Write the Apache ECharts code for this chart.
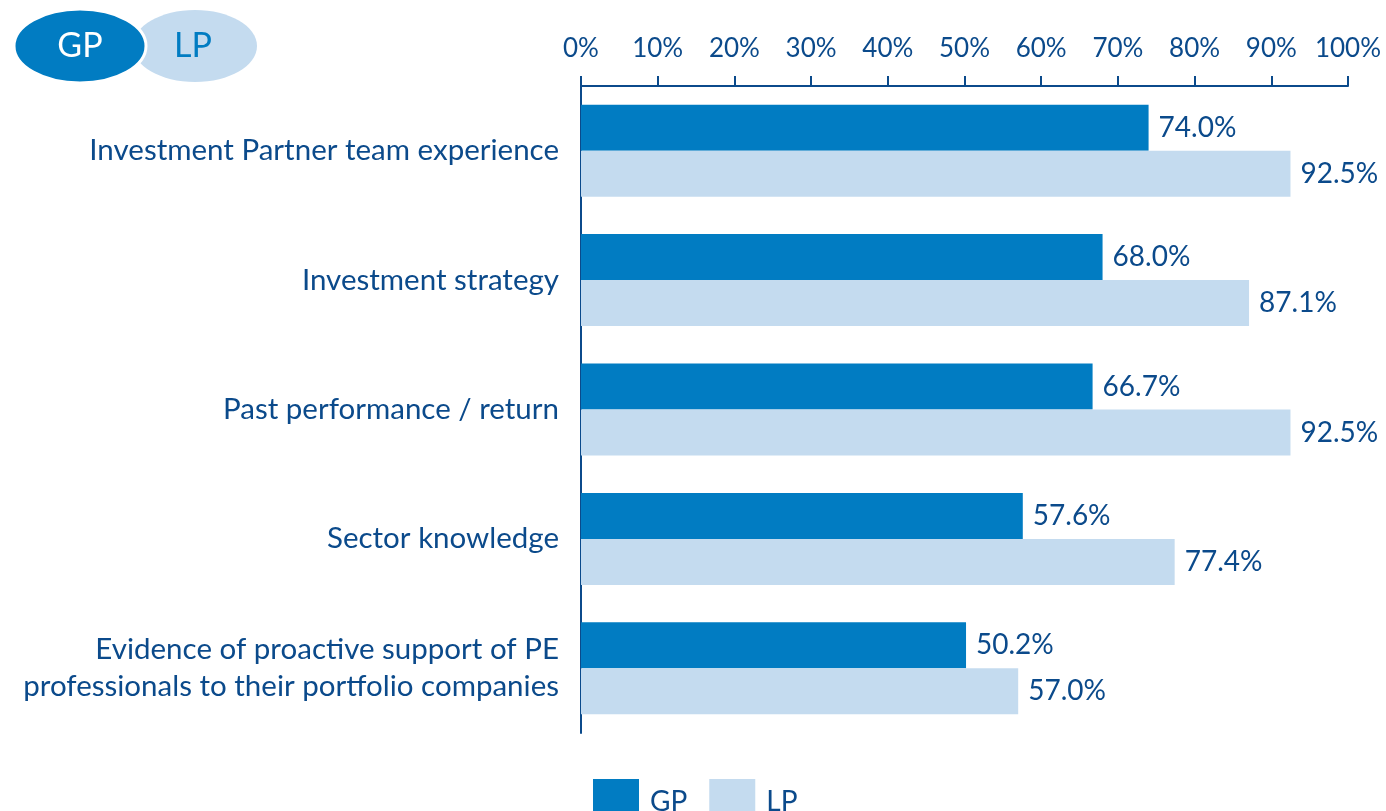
<!DOCTYPE html>
<html>
<head>
<meta charset="utf-8">
<script src="https://cdn.jsdelivr.net/npm/echarts@6/dist/echarts.min.js"></script>
<style>
  html, body { margin: 0; padding: 0; background: #fff; }
  #chart { width: 1386px; height: 811px; }
</style>
</head>
<body>
<div id="chart"></div>
<script>
// Chart data
const categories = [
  'Investment Partner team experience',
  'Investment strategy',
  'Past performance / return',
  'Sector knowledge',
  'Evidence of proactive support of PE\nprofessionals to their portfolio companies'
]
const gpValues = [74.0, 68.0, 66.7, 57.6, 50.2]
const lpValues = [92.5, 87.1, 92.5, 77.4, 57.0]
const seriesNames = ['GP', 'LP']

// Colours
const gpColor = '#017cc2'
const lpColor = '#c4dbef'
const textColor = '#0b4a8b'
const fontFamily = 'Lato, "Open Sans", sans-serif'

const chart = echarts.init(document.getElementById('chart'))

const valueLabel = {
  show: true,
  position: 'right',
  distance: 10,
  color: textColor,
  fontSize: 28,
  fontFamily,
  formatter: (p) => p.value.toFixed(1) + '%'
}

const option = {
  backgroundColor: '#fff',
  animation: false,
  grid: {
    left: 581,
    right: 38,
    top: 86,
    bottom: 78
  },
  legend: {
    data: seriesNames,
    left: 593,
    top: 779,
    padding: 0,
    itemWidth: 46,
    itemHeight: 46,
    itemGap: 22,
    icon: 'rect',
    textStyle: {
      color: textColor,
      fontSize: 28,
      fontFamily,
      padding: [0, 0, 0, 6]
    }
  },
  xAxis: {
    type: 'value',
    position: 'top',
    min: 0,
    max: 100,
    interval: 10,
    axisLine: { show: true, lineStyle: { color: textColor, width: 2 } },
    axisTick: { show: true, length: 10, lineStyle: { color: textColor, width: 2 } },
    splitLine: { show: false },
    axisLabel: {
      color: textColor,
      fontSize: 26,
      fontFamily,
      margin: 24,
      formatter: '{value}%'
    }
  },
  yAxis: {
    type: 'category',
    inverse: true,
    data: categories,
    axisLine: { show: true, lineStyle: { color: textColor, width: 2 } },
    axisTick: { show: false },
    axisLabel: {
      color: textColor,
      fontSize: 29.5,
      fontFamily,
      margin: 22,
      lineHeight: 37,
      align: 'right'
    }
  },
  series: [
    {
      name: 'GP',
      type: 'bar',
      data: gpValues,
      barWidth: 46,
      barGap: '0%',
      itemStyle: { color: gpColor },
      label: valueLabel
    },
    {
      name: 'LP',
      type: 'bar',
      data: lpValues,
      barWidth: 46,
      barGap: '0%',
      itemStyle: { color: lpColor },
      label: valueLabel
    }
  ],
  // GP / LP badge in the top-left corner
  graphic: [
    {
      type: 'ellipse',
      shape: { cx: 195, cy: 46, rx: 62, ry: 36 },
      style: { fill: lpColor }
    },
    {
      type: 'ellipse',
      shape: { cx: 80, cy: 46, rx: 66, ry: 37 },
      style: { fill: gpColor, stroke: '#fff', lineWidth: 3 }
    },
    {
      type: 'text',
      x: 80,
      y: 46,
      style: {
        text: 'GP',
        fill: '#fff',
        fontSize: 34,
        fontFamily,
        align: 'center',
        verticalAlign: 'middle'
      }
    },
    {
      type: 'text',
      x: 193,
      y: 46,
      style: {
        text: 'LP',
        fill: gpColor,
        fontSize: 34,
        fontFamily,
        align: 'center',
        verticalAlign: 'middle'
      }
    }
  ]
}

chart.setOption(option)
</script>
</body>
</html>
